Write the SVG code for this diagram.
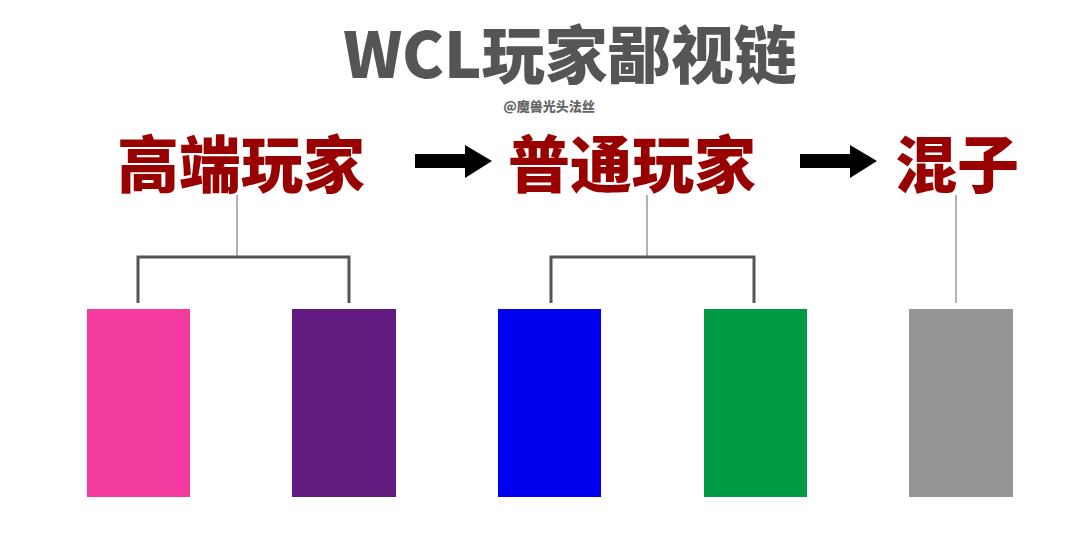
<svg xmlns="http://www.w3.org/2000/svg" width="1091" height="538" viewBox="0 0 1091 538">
<style>
.t{font-family:"Noto Sans CJK SC","Liberation Sans",sans-serif;font-weight:900;text-anchor:middle}
.h{fill:#990000;font-size:62px}
.thin{stroke:#999;stroke-width:1.5;fill:none}
.br{stroke:#555;stroke-width:3;fill:none}
</style>
<rect width="1091" height="538" fill="#fff"/>
<g id="title"><text class="t" x="570" y="78" font-size="63" fill="#555">WCL玩家鄙视链</text></g>
<g id="credit"><text class="t" x="549" y="111" font-size="13" fill="#666">@魔兽光头法丝</text></g>
<g id="n1"><text class="t h" x="241" y="188">高端玩家</text></g>
<g id="n2"><text class="t h" x="632" y="188">普通玩家</text></g>
<g id="n3"><text class="t h" x="957" y="188">混子</text></g>
<g id="connectors">
<polygon points="415,154 465,154 465,145 492,161 465,178 465,168 415,168" fill="#000"/>
<polygon points="800,154 850,154 850,145 877,161 850,178 850,168 800,168" fill="#000"/>
<line class="thin" x1="237" y1="195" x2="237" y2="257"/>
<polyline class="br" points="138,303 138,257 349,257 349,303"/>
<line class="thin" x1="647" y1="195" x2="647" y2="257"/>
<polyline class="br" points="551,303 551,257 754,257 754,303"/>
<line class="thin" x1="956" y1="195" x2="956" y2="303"/>
</g>
<g id="r1"><rect x="87" y="309" width="103" height="188" fill="#F43CA0"/></g>
<g id="r2"><rect x="292" y="309" width="104" height="188" fill="#601A80"/></g>
<g id="r3"><rect x="498" y="309" width="103" height="188" fill="#0000F0"/></g>
<g id="r4"><rect x="704" y="309" width="103" height="188" fill="#009944"/></g>
<g id="r5"><rect x="909" y="309" width="104" height="188" fill="#959595"/></g>
</svg>
